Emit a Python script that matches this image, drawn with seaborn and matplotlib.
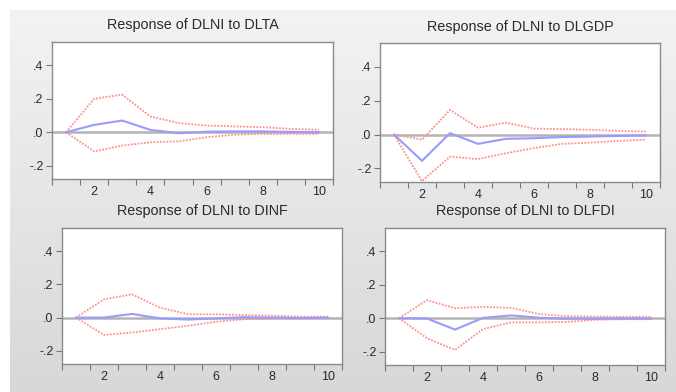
import numpy as np
import matplotlib
matplotlib.use("Agg")
import matplotlib.pyplot as plt
import seaborn as sns

periods = list(range(1, 11))

titles = ["Response of DLNI to DLTA", "Response of DLNI to DLGDP",
          "Response of DLNI to DINF", "Response of DLNI to DLFDI"]

# impulse responses (blue) and +/- 2 s.e. bands (red)
resp_dlta = [0.0, 0.044, 0.070, 0.014, -0.006, 0.003, 0.005, 0.005, 0.002, 0.0]
upper_dlta = [0.0, 0.200, 0.225, 0.094, 0.055, 0.040, 0.035, 0.030, 0.020, 0.015]
lower_dlta = [0.0, -0.115, -0.080, -0.060, -0.055, -0.030, -0.015, -0.010, -0.010, -0.010]

resp_dlgdp = [0.0, -0.155, 0.008, -0.055, -0.025, -0.022, -0.015, -0.012, -0.008, -0.005]
upper_dlgdp = [0.0, -0.030, 0.145, 0.040, 0.070, 0.035, 0.032, 0.028, 0.022, 0.018]
lower_dlgdp = [0.0, -0.275, -0.130, -0.145, -0.110, -0.080, -0.055, -0.048, -0.038, -0.030]

resp_dinf = [0.0, 0.0, 0.022, -0.005, -0.012, -0.005, 0.002, 0.0, -0.003, 0.0]
upper_dinf = [0.0, 0.110, 0.140, 0.060, 0.020, 0.020, 0.015, 0.012, 0.005, 0.005]
lower_dinf = [0.0, -0.105, -0.090, -0.070, -0.050, -0.025, -0.010, -0.005, -0.005, -0.003]

resp_dlfdi = [0.0, -0.002, -0.068, 0.002, 0.017, 0.003, -0.003, -0.003, -0.002, -0.002]
upper_dlfdi = [0.0, 0.108, 0.060, 0.068, 0.062, 0.025, 0.012, 0.010, 0.008, 0.008]
lower_dlfdi = [0.0, -0.120, -0.190, -0.065, -0.025, -0.025, -0.022, -0.010, -0.006, -0.006]

y_ticks = [-0.2, 0.0, 0.2, 0.4]
y_labels = ["-.2", ".0", ".2", ".4"]

sns.set_style("white")
plt.rcParams["font.family"] = ["Liberation Sans", "DejaVu Sans"]

W, H = 676, 392
fig = plt.figure(figsize=(W / 100, H / 100), dpi=100)
fig.patch.set_facecolor("white")

# gray gradient backdrop like the EViews window
bg = fig.add_axes([10 / W, 0, (W - 10) / W, (H - 10) / H], zorder=-10)
grad = np.linspace(0, 1, 256).reshape(-1, 1)
bg.imshow(grad, aspect="auto", cmap=matplotlib.colors.LinearSegmentedColormap.from_list(
    "bgg", ["#f3f3f3", "#d8d8d8"]), extent=[0, 1, 0, 1], origin="upper")
bg.set_axis_off()

# (left, top, right, bottom) in pixels
boxes = [(52, 42, 333, 179), (380, 43, 660, 182),
         (62, 228, 342, 364), (385, 228, 665, 365)]

panels = [(resp_dlta, upper_dlta, lower_dlta),
          (resp_dlgdp, upper_dlgdp, lower_dlgdp),
          (resp_dinf, upper_dinf, lower_dinf),
          (resp_dlfdi, upper_dlfdi, lower_dlfdi)]

for (l, t, r, b), title, (resp, up, lo) in zip(boxes, titles, panels):
    ax = fig.add_axes([l / W, (H - b) / H, (r - l) / W, (b - t) / H])
    ax.set_facecolor("white")
    ax.axhline(0, color="#b4b4b4", lw=1.8, zorder=1)
    sns.lineplot(x=periods, y=up, ax=ax, color="#ff9090", lw=1.3,
                 linestyle=(0, (1.0, 0.8)), zorder=3)
    sns.lineplot(x=periods, y=lo, ax=ax, color="#ff9090", lw=1.3,
                 linestyle=(0, (1.0, 0.8)), zorder=3)
    sns.lineplot(x=periods, y=resp, ax=ax, color="#9a9aff", lw=1.5, zorder=4)

    ax.set_xlim(0.5, 10.5)
    ax.set_ylim(-0.28, 0.54)
    ax.set_xticks([2, 4, 6, 8, 10])
    ax.set_xticks(np.arange(0.5, 11, 1.0), minor=True)
    ax.tick_params(axis="x", which="major", length=0, pad=5,
                   labelsize=9, labelcolor="#2a2a2a")
    ax.tick_params(axis="x", which="minor", length=4, width=0.8,
                   color="#777777", direction="out", bottom=True)
    ax.set_yticks(y_ticks)
    ax.set_yticklabels(y_labels)
    ax.tick_params(axis="y", length=4, width=0.8, color="#777777",
                   direction="out", left=True, pad=2,
                   labelsize=9, labelcolor="#2a2a2a")
    for s in ax.spines.values():
        s.set_color("#8a8a8a")
        s.set_linewidth(1.0)
    ax.set_xlabel("")
    ax.set_ylabel("")
    ax.set_title(title, fontsize=10.4, color="#2a2a2a", pad=9)

fig.savefig("out.png", dpi=100)
plt.close(fig)
